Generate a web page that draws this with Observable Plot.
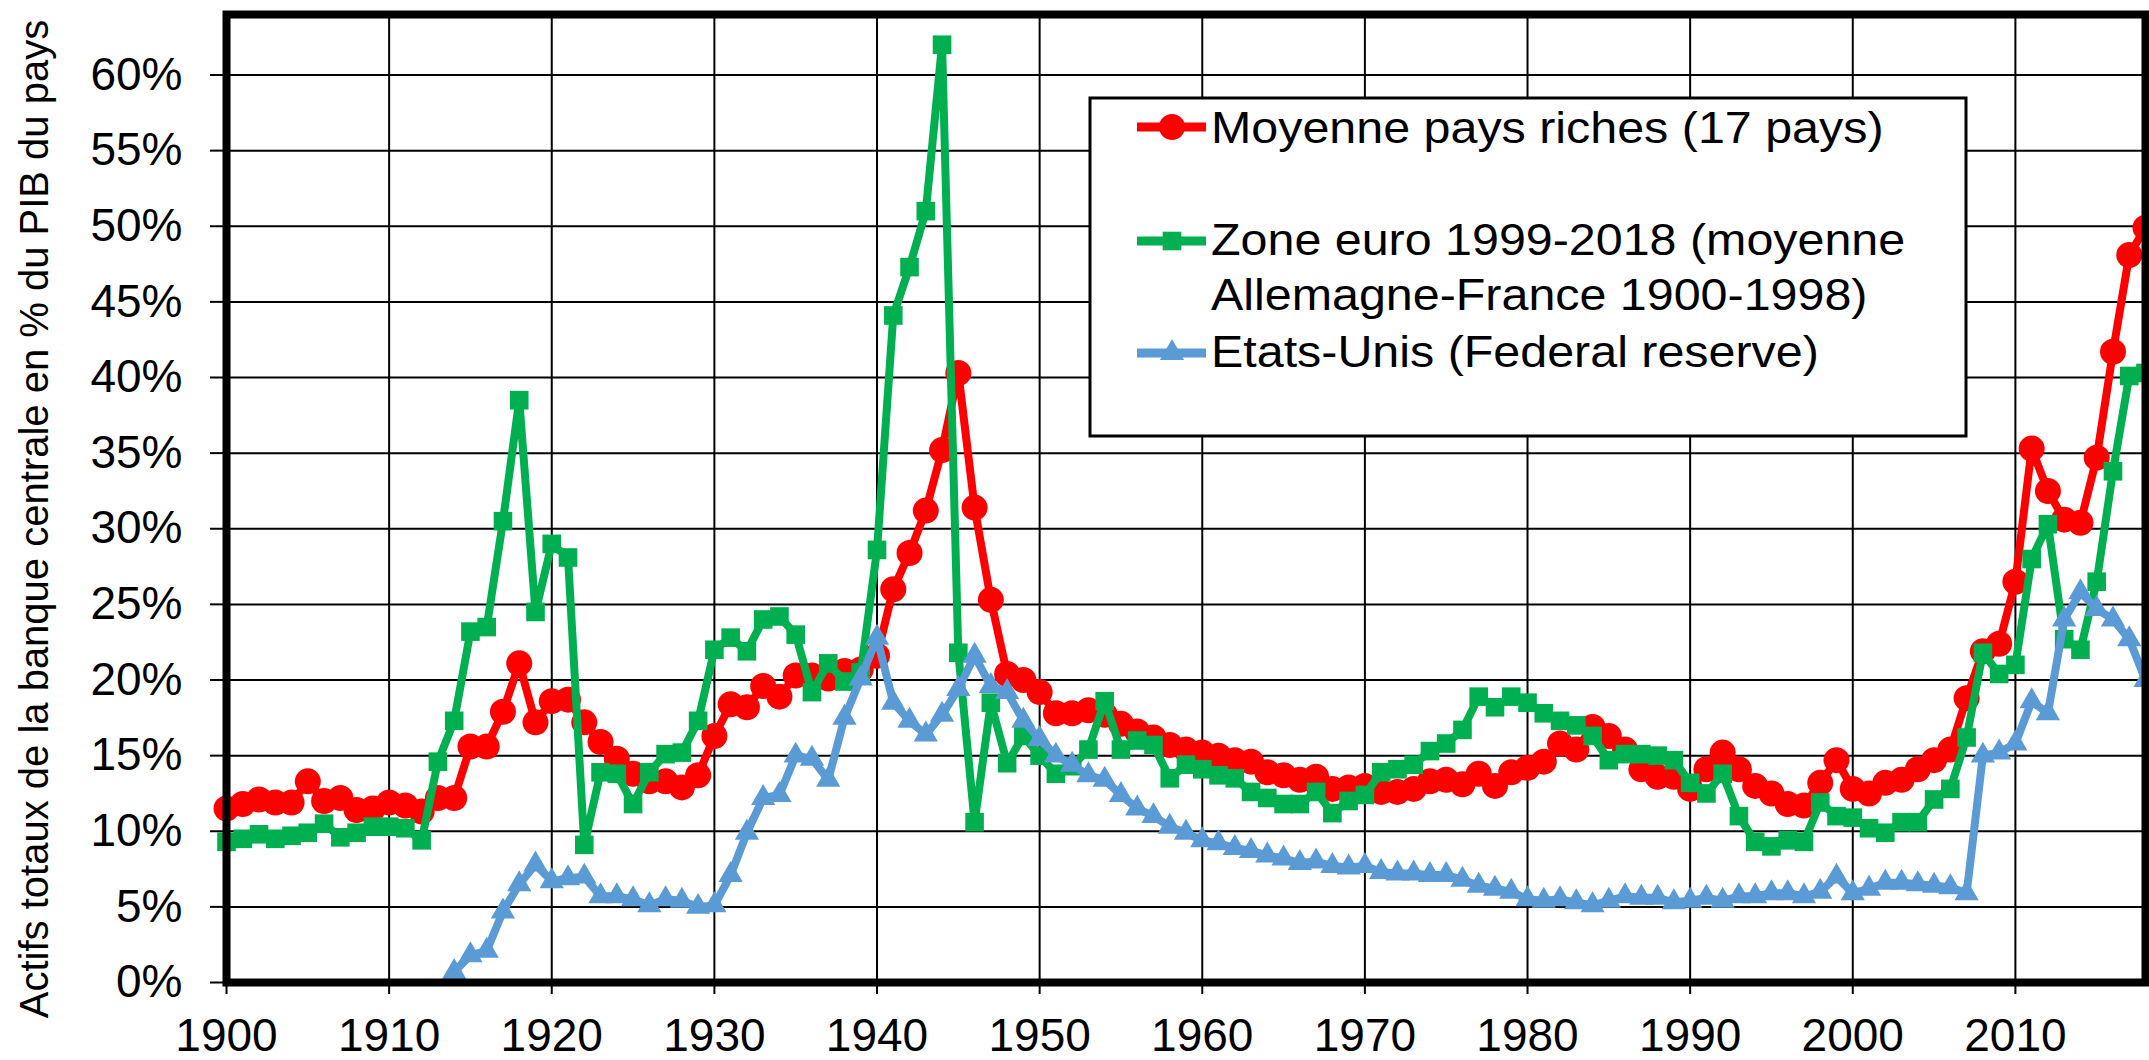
<!DOCTYPE html>
<html><head><meta charset="utf-8">
<script src="https://cdn.jsdelivr.net/npm/d3@7"></script>
<script src="https://cdn.jsdelivr.net/npm/@observablehq/plot@0.6"></script>
<style>body{margin:0;background:#fff;} #chart{width:2149px;height:1060px;overflow:hidden;}</style>
</head><body><div id="chart"></div>
<script>
// Years 1900-2018
const years = d3.range(1900, 2019);
// Moyenne pays riches (17 pays), % du PIB
const richAvg = [
 11.5,11.8,12.1,11.9,11.9,13.3,12.0,12.2,11.4,11.5,
 11.9,11.7,11.3,12.2,12.2,15.6,15.6,17.9,21.1,17.2,
 18.6,18.7,17.2,15.9,14.8,13.8,13.3,13.3,12.9,13.7,
 16.3,18.4,18.2,19.6,18.9,20.3,20.3,20.1,20.6,20.7,
 21.6,26.0,28.4,31.2,35.2,40.3,31.4,25.3,20.4,20.0,
 19.2,17.8,17.8,18.0,17.7,17.1,16.6,16.2,15.7,15.4,
 15.2,15.0,14.7,14.6,13.9,13.7,13.4,13.6,12.8,12.9,
 13.0,12.6,12.6,12.8,13.3,13.4,13.1,13.8,13.0,13.9,
 14.2,14.6,15.8,15.4,16.9,16.3,15.4,14.1,13.6,13.6,
 12.8,14.1,15.2,14.1,13.0,12.5,11.8,11.7,13.2,14.7,
 12.8,12.5,13.2,13.4,14.1,14.7,15.4,18.8,21.9,22.4,
 26.5,35.3,32.5,30.6,30.4,34.7,41.7,48.1,49.9
];
// Zone euro 1999-2018 (moyenne Allemagne-France 1900-1998)
const euroZone = [
 9.3,9.5,9.8,9.5,9.7,9.9,10.5,9.6,9.9,10.3,
 10.3,10.2,9.4,14.6,17.3,23.2,23.5,30.5,38.5,24.5,
 29.0,28.1,9.1,13.9,13.8,11.8,13.9,15.1,15.2,17.3,
 22.0,22.8,21.9,24.0,24.2,23.0,19.2,21.1,19.9,20.5,
 28.6,44.1,47.3,51.0,62.0,21.8,10.6,18.5,14.5,16.3,
 15.0,13.8,14.3,15.4,18.6,15.4,16.0,15.7,13.5,14.4,
 14.1,13.7,13.5,12.6,12.2,11.8,11.8,12.6,11.2,12.0,
 12.4,13.9,14.1,14.4,15.3,15.8,16.7,18.9,18.2,18.9,
 18.5,17.8,17.3,17.0,16.3,14.7,15.1,15.1,15.0,14.7,
 13.2,12.5,13.8,11.0,9.3,9.0,9.4,9.3,11.9,11.0,
 10.9,10.2,9.9,10.6,10.6,12.1,12.8,16.2,21.8,20.4,
 21.0,28.0,30.3,22.7,22.0,26.5,33.8,40.1,40.3
];
// Etats-Unis (Federal reserve), 1914-2018
const usYears = d3.range(1914, 2019);
const usFed = [
 0.7,1.8,2.1,4.7,6.5,7.8,
 6.7,6.9,7.0,5.7,5.7,5.5,5.1,5.5,5.4,5.0,
 5.1,7.1,9.9,12.2,12.4,15.0,14.8,13.4,17.5,20.1,
 22.8,18.5,17.3,16.4,17.7,19.4,21.6,19.6,19.2,17.3,
 16.1,15.0,14.4,13.7,13.4,12.4,11.5,11.0,10.3,9.9,
 9.4,9.2,8.9,8.7,8.4,8.2,7.9,8.0,7.7,7.6,
 7.7,7.3,7.2,7.2,7.1,7.1,6.8,6.4,6.2,6.0,
 5.5,5.4,5.5,5.3,5.1,5.4,5.7,5.6,5.6,5.3,
 5.4,5.6,5.4,5.7,5.7,5.9,5.9,5.7,6.0,7.0,
 5.9,6.2,6.6,6.6,6.5,6.4,6.3,5.9,15.0,15.2,
 15.8,18.6,17.8,24.0,25.8,24.7,24.0,22.7,20.0
];
const xTicks = [1900,1910,1920,1930,1940,1950,1960,1970,1980,1990,2000,2010];
const yTicks = [0,0.05,0.10,0.15,0.20,0.25,0.30,0.35,0.40,0.45,0.50,0.55,0.60];
const seriesNames = [
  ["Moyenne pays riches (17 pays)"],
  ["Zone euro 1999-2018 (moyenne", "Allemagne-France 1900-1998)"],
  ["Etats-Unis (Federal reserve)"]
];
const seriesColors = ["#ff0000", "#00b050", "#5b9bd5"];
const seriesSymbols = ["circle", "square", "triangle"];
const yTitle = "Actifs totaux de la banque centrale en % du PIB du pays";

const rich = years.map((y, i) => ({year: y, value: richAvg[i] / 100}));
const euro = years.map((y, i) => ({year: y, value: euroZone[i] / 100}));
const us = usYears.map((y, i) => ({year: y, value: usFed[i] / 100}));

const font = "'Liberation Sans', Arial, Helvetica, sans-serif";
const plot = Plot.plot({
  width: 2149, height: 1060,
  marginLeft: 226, marginRight: 4, marginTop: 14, marginBottom: 78,
  style: {fontFamily: font, fontSize: "46px", color: "#000", background: "#fff", overflow: "visible"},
  x: {domain: [1900, 2018]},
  y: {domain: [0, 0.64]},
  marks: [
    Plot.gridX(xTicks, {stroke: "#000", strokeOpacity: 1, strokeWidth: 2}),
    Plot.gridY(yTicks, {stroke: "#000", strokeOpacity: 1, strokeWidth: 2}),
    Plot.line(rich, {x: "year", y: "value", stroke: seriesColors[0], strokeWidth: 8, strokeLinejoin: "round"}),
    Plot.dot(rich, {x: "year", y: "value", fill: seriesColors[0], r: 13, symbol: seriesSymbols[0]}),
    Plot.line(euro, {x: "year", y: "value", stroke: seriesColors[1], strokeWidth: 8, strokeLinejoin: "round"}),
    Plot.dot(euro, {x: "year", y: "value", fill: seriesColors[1], r: 10.5, symbol: seriesSymbols[1]}),
    Plot.line(us, {x: "year", y: "value", stroke: seriesColors[2], strokeWidth: 8, strokeLinejoin: "round"}),
    Plot.dot(us, {x: "year", y: "value", fill: seriesColors[2], r: 9, symbol: seriesSymbols[2]}),
    Plot.axisX(xTicks, {tickFormat: d => String(d), tickSize: 12, tickPadding: 24, strokeWidth: 2, label: null, fontSize: 46}),
    Plot.axisY(yTicks, {tickFormat: d3.format(".0%"), tickSize: 16, tickPadding: 28, strokeWidth: 2, label: null, fontSize: 46}),
    Plot.frame({stroke: "#000", strokeWidth: 8})
  ]
});
document.getElementById("chart").appendChild(plot);

const svg = d3.select(plot);
// Y axis title
svg.append("text")
  .attr("transform", "translate(48,519) rotate(-90)")
  .attr("text-anchor", "middle")
  .attr("font-family", font).attr("font-size", 40).attr("fill", "#000")
  .text(yTitle);

// Legend
const lg = svg.append("g");
lg.append("rect").attr("x", 1090).attr("y", 98).attr("width", 876).attr("height", 338)
  .attr("fill", "#fff").attr("stroke", "#000").attr("stroke-width", 3);
const symY = [127, 241, 353];
const textY = [[143], [255, 310], [367]];
seriesNames.forEach((lines, i) => {
  lg.append("line").attr("x1", 1137).attr("x2", 1206).attr("y1", symY[i]).attr("y2", symY[i])
    .attr("stroke", seriesColors[i]).attr("stroke-width", 9);
  const sym = {circle: d3.symbolCircle, square: d3.symbolSquare, triangle: d3.symbolTriangle}[seriesSymbols[i]];
  const r = [13, 10.5, 9][i];
  lg.append("path").attr("d", d3.symbol(sym, r * r * Math.PI)())
    .attr("transform", `translate(1172,${symY[i]})`).attr("fill", seriesColors[i]);
  lines.forEach((t, j) => {
    lg.append("text").attr("transform", `translate(1211,${textY[i][j]}) scale(1.1,1)`)
      .attr("text-anchor", "start")
      .attr("font-family", font).attr("font-size", 44).attr("fill", "#000").text(t);
  });
});
</script>
</body></html>
